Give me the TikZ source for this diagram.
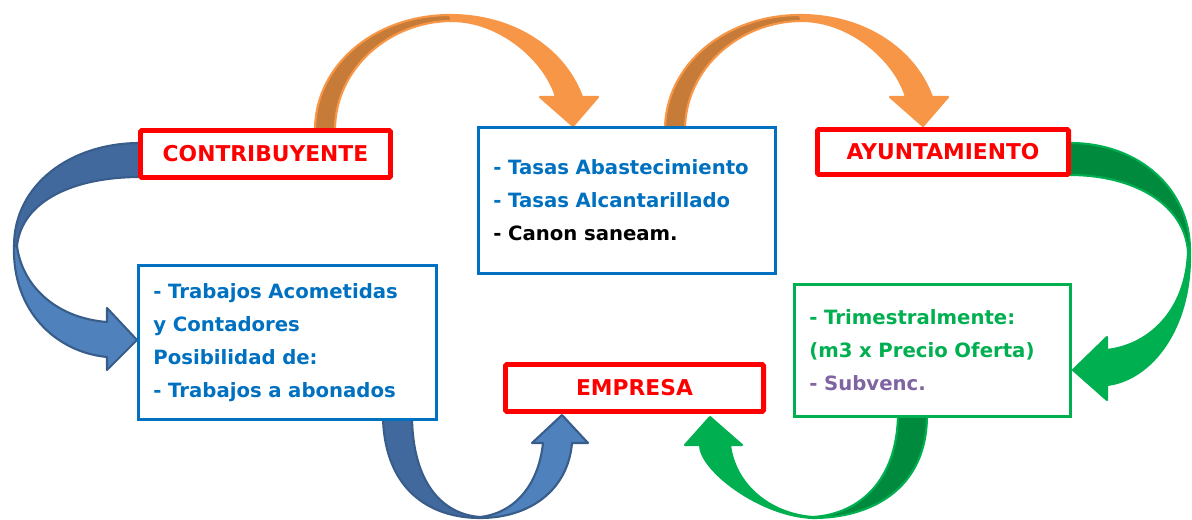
\documentclass[tikz,border=0pt]{standalone}
\usepackage{fontspec}
\setmainfont{DejaVu Sans}
\usepackage{tikz}

\definecolor{boxred}{HTML}{FF0000}
\definecolor{boxblue}{HTML}{0070C0}
\definecolor{boxgreen}{HTML}{00B050}
\definecolor{greendark}{HTML}{008A3E}
\definecolor{subvcolor}{HTML}{8064A2}
\definecolor{orglight}{HTML}{F79646}
\definecolor{orgdark}{HTML}{C77B38}
\definecolor{bluelight}{HTML}{4F81BD}
\definecolor{bluedark}{HTML}{41699D}
\definecolor{blueline}{HTML}{385D8A}

\begin{document}
\begin{tikzpicture}[x=0.025cm, y=-0.025cm,
    actor/.style={draw=boxred, line width=3.5pt, rounded corners=1pt, fill=white, text=boxred, font=\bfseries\fontsize{15.5}{18}\selectfont, minimum height=1.175cm},
    infobox/.style={line width=2.1pt, fill=white, inner xsep=0.375cm, align=left, font=\bfseries\fontsize{14}{23.5}\selectfont},
    bandpiece/.style={line width=1.5pt, line join=round}]
    \useasboundingbox (0,0) rectangle (1192,520);

    \foreach \dx in {0,350} {
        \begin{scope}[xshift={\dx*0.025cm}]
            \filldraw[bandpiece, fill=orgdark, draw=orglight] (315,130) .. controls (315,65) and (375,15) .. (450,15) -- (452,21) .. controls (390,21) and (335,68) .. (335,130) -- cycle;
            \filldraw[bandpiece, fill=orglight, draw=orglight] (450,15) .. controls (515,15) and (565,50) .. (582,97) -- (598,97) -- (573,126) -- (540,97) -- (556,97) .. controls (545,60) and (500,21) .. (452,21) -- cycle;
        \end{scope}
    }

    \filldraw[bandpiece, fill=bluedark, draw=blueline] (140,143) .. controls (70,143) and (14,185) .. (14,246) -- (17,246) .. controls (22,200) and (75,177) .. (140,177) -- cycle;
    \filldraw[bandpiece, fill=bluelight, draw=blueline] (14,246) .. controls (12,310) and (55,352) .. (107,357) -- (107,370) -- (137,340) -- (107,308) -- (107,322) .. controls (55,318) and (22,285) .. (17,246) -- cycle;

    \filldraw[bandpiece, fill=bluedark, draw=blueline] (383,418) .. controls (385,490) and (430,518) .. (480,518) -- (480,517) .. controls (440,514) and (413,480) .. (412,418) -- cycle;
    \filldraw[bandpiece, fill=bluelight, draw=blueline] (480,518) .. controls (530,518) and (568,490) .. (572,443) -- (588,443) -- (562,415) -- (532,443) -- (543,443) .. controls (538,490) and (510,514) .. (480,517) -- cycle;

    \filldraw[bandpiece, fill=greendark, draw=boxgreen] (1070,143) .. controls (1140,143) and (1190,190) .. (1190,250) -- (1188,252) .. controls (1185,205) and (1135,175) .. (1070,175) -- cycle;
    \filldraw[bandpiece, fill=boxgreen, draw=boxgreen] (1190,250) .. controls (1192,330) and (1150,380) .. (1107,385) -- (1107,400) -- (1073,370) -- (1107,337) -- (1107,350) .. controls (1150,345) and (1186,310) .. (1188,252) -- cycle;

    \filldraw[bandpiece, fill=greendark, draw=boxgreen] (927,415) .. controls (927,490) and (870,518) .. (813,518) -- (813,517) .. controls (860,514) and (897,480) .. (898,415) -- cycle;
    \filldraw[bandpiece, fill=boxgreen, draw=boxgreen] (813,518) .. controls (760,516) and (700,470) .. (700,445) -- (685,445) -- (710,417) -- (742,445) -- (730,445) .. controls (735,485) and (770,514) .. (813,517) -- cycle;

    \node[actor, minimum width=6.25cm] (contrib) at (265.5,154) {CONTRIBUYENTE};
    \node[actor, minimum width=6.275cm, minimum height=1.125cm] (ayto) at (943,152) {AYUNTAMIENTO};
    \node[actor, minimum width=6.45cm] (empresa) at (634.5,388) {EMPRESA};

    \node[infobox, draw=boxblue, text=boxblue, minimum width=7.425cm, minimum height=3.65cm, text width=6.675cm] (tasas) at (627,200.5)
        {- Tasas Abastecimiento\\- Tasas Alcantarillado\\\textcolor{black}{- Canon saneam.}};
    \node[infobox, draw=boxblue, text=boxblue, minimum width=7.45cm, minimum height=3.85cm, text width=6.7cm] (trabajos) at (287.5,342.5)
        {- Trabajos Acometidas\\y Contadores\\Posibilidad de:\\- Trabajos a abonados};
    \node[infobox, draw=boxgreen, text=boxgreen, minimum width=6.9cm, minimum height=3.3cm, text width=6.15cm] (trimestral) at (932.5,350.5)
        {- Trimestralmente:\\(m3 x Precio Oferta)\\\textcolor{subvcolor}{- Subvenc.}};
\end{tikzpicture}
\end{document}
